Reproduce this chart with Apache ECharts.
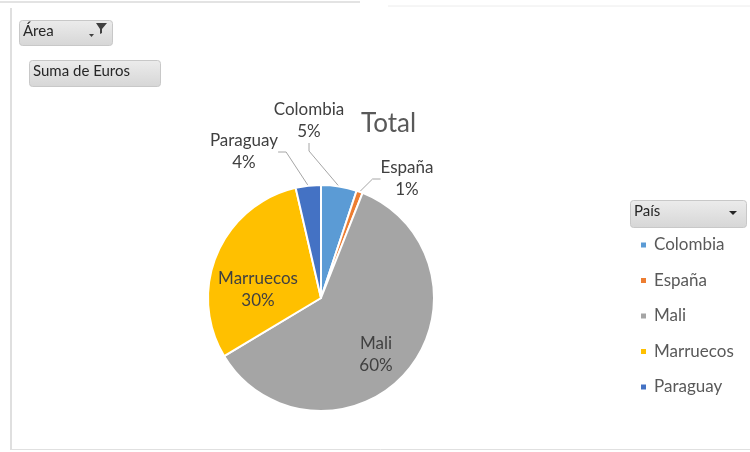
<!DOCTYPE html>
<html><head><meta charset="utf-8">
<script src="https://cdn.jsdelivr.net/npm/echarts@6/dist/echarts.min.js"></script>
<style>html,body{margin:0;padding:0;background:#fff}#c{width:750px;height:452px}</style>
</head><body><div id="c"></div>
<script>
const categories = ['Colombia', 'España', 'Mali', 'Marruecos', 'Paraguay'];
const values = [5.1, 0.9, 60.4, 30.0, 3.6];
const colors = ['#5B9BD5', '#ED7D31', '#A5A5A5', '#FFC000', '#4472C4'];
const insideLabels = ['Mali', 'Marruecos'];
const titleText = 'Total';
const fieldButtons = ['Área', 'Suma de Euros', 'País'];

const FONT = 'Lato, "Open Sans", sans-serif';
const chart = echarts.init(document.getElementById('c'), null, {renderer: 'canvas'});

function button(x, y, w, h, text, extra) {
  const els = [{
    type: 'rect', left: x, top: y, z: 10,
    shape: {width: w, height: h, r: 3},
    style: {
      fill: new echarts.graphic.LinearGradient(0, 0, 0, 1, [
        {offset: 0, color: '#ececec'}, {offset: 1, color: '#d6d6d6'}]),
      stroke: '#c8c8c8', lineWidth: 1
    }
  }, {
    type: 'text', left: x + 4, top: y + 4, z: 11,
    style: {text: text, fill: '#262626', font: '15px ' + FONT}
  }];
  return els.concat(extra || []);
}

const data = categories.map((c, i) => {
  const inside = insideLabels.includes(c);
  return {
    name: c, value: values[i],
    itemStyle: {color: colors[i]},
    label: inside ? {position: 'inside'} : {position: 'outside'},
    labelLine: {show: !inside}
  };
});

// label placement (text block centres), like Excel's best-fit layout
const labelSpots = {
  'Colombia': {x: 309, y: 121},
  'Paraguay': {x: 244, y: 152},
  'España': {x: 407, y: 179},
  'Marruecos': {x: 258, y: 290},
  'Mali': {x: 376, y: 355}
};

chart.setOption({
  animation: false,
  backgroundColor: '#ffffff',
  title: {
    text: titleText, left: 356, top: 106,
    textStyle: {fontFamily: FONT, fontSize: 26, fontWeight: 'normal', color: '#595959'}
  },
  legend: {
    orient: 'vertical', left: 634, top: 230,
    data: categories,
    icon: 'rect', itemWidth: 7, itemHeight: 7, itemGap: 15.5,
    textStyle: {fontFamily: FONT, fontSize: 17, color: '#595959', lineHeight: 20, padding: [0, 0, 0, 2]}
  },
  graphic: [].concat(
    [{type: 'line', shape: {x1: 0, y1: 2, x2: 360, y2: 2}, style: {stroke: '#e3e3e3', lineWidth: 2}},
     {type: 'line', shape: {x1: 388, y1: 6, x2: 750, y2: 6}, style: {stroke: '#ececec', lineWidth: 1}},
     {type: 'line', shape: {x1: 11, y1: 8, x2: 11, y2: 450}, style: {stroke: '#d4d4d4', lineWidth: 1.5}},
     {type: 'line', shape: {x1: 11, y1: 449.5, x2: 750, y2: 449.5}, style: {stroke: '#e0e0e0', lineWidth: 1}}],
    button(19, 20, 93, 25, fieldButtons[0], [
      {type: 'polygon', z: 12, shape: {points: [[96, 23], [107, 23], [102, 29], [102, 33], [100, 34], [100, 29]]}, style: {fill: '#404040'}},
      {type: 'polygon', z: 12, shape: {points: [[89, 34], [94, 34], [91.5, 37]]}, style: {fill: '#404040'}}
    ]),
    button(29, 60, 131, 26, fieldButtons[1]),
    button(630, 200, 116, 27, fieldButtons[2], [
      {type: 'polygon', z: 12, shape: {points: [[729, 211], [737, 211], [733, 215]]}, style: {fill: '#262626'}}
    ])
  ),
  series: [{
    type: 'pie',
    center: [321, 298],
    radius: 113,
    startAngle: 90,
    clockwise: true,
    avoidLabelOverlap: false,
    data: data,
    itemStyle: {borderColor: '#ffffff', borderWidth: 2},
    label: {
      formatter: '{b}\n{d}%',
      fontFamily: FONT, fontSize: 17, color: '#404040', lineHeight: 22, align: 'center'
    },
    labelLine: {length: 30, length2: 8, lineStyle: {color: '#a6a6a6', width: 1}},
    labelLayout: function (p) {
      const s = labelSpots[categories[p.dataIndex]];
      if (!s) return {};
      return {
        x: s.x, y: s.y,
        align: 'center', verticalAlign: 'middle',
        moveOverlap: null, hideOverlap: false
      };
    },
    percentPrecision: 0
  }]
});
</script></body></html>
